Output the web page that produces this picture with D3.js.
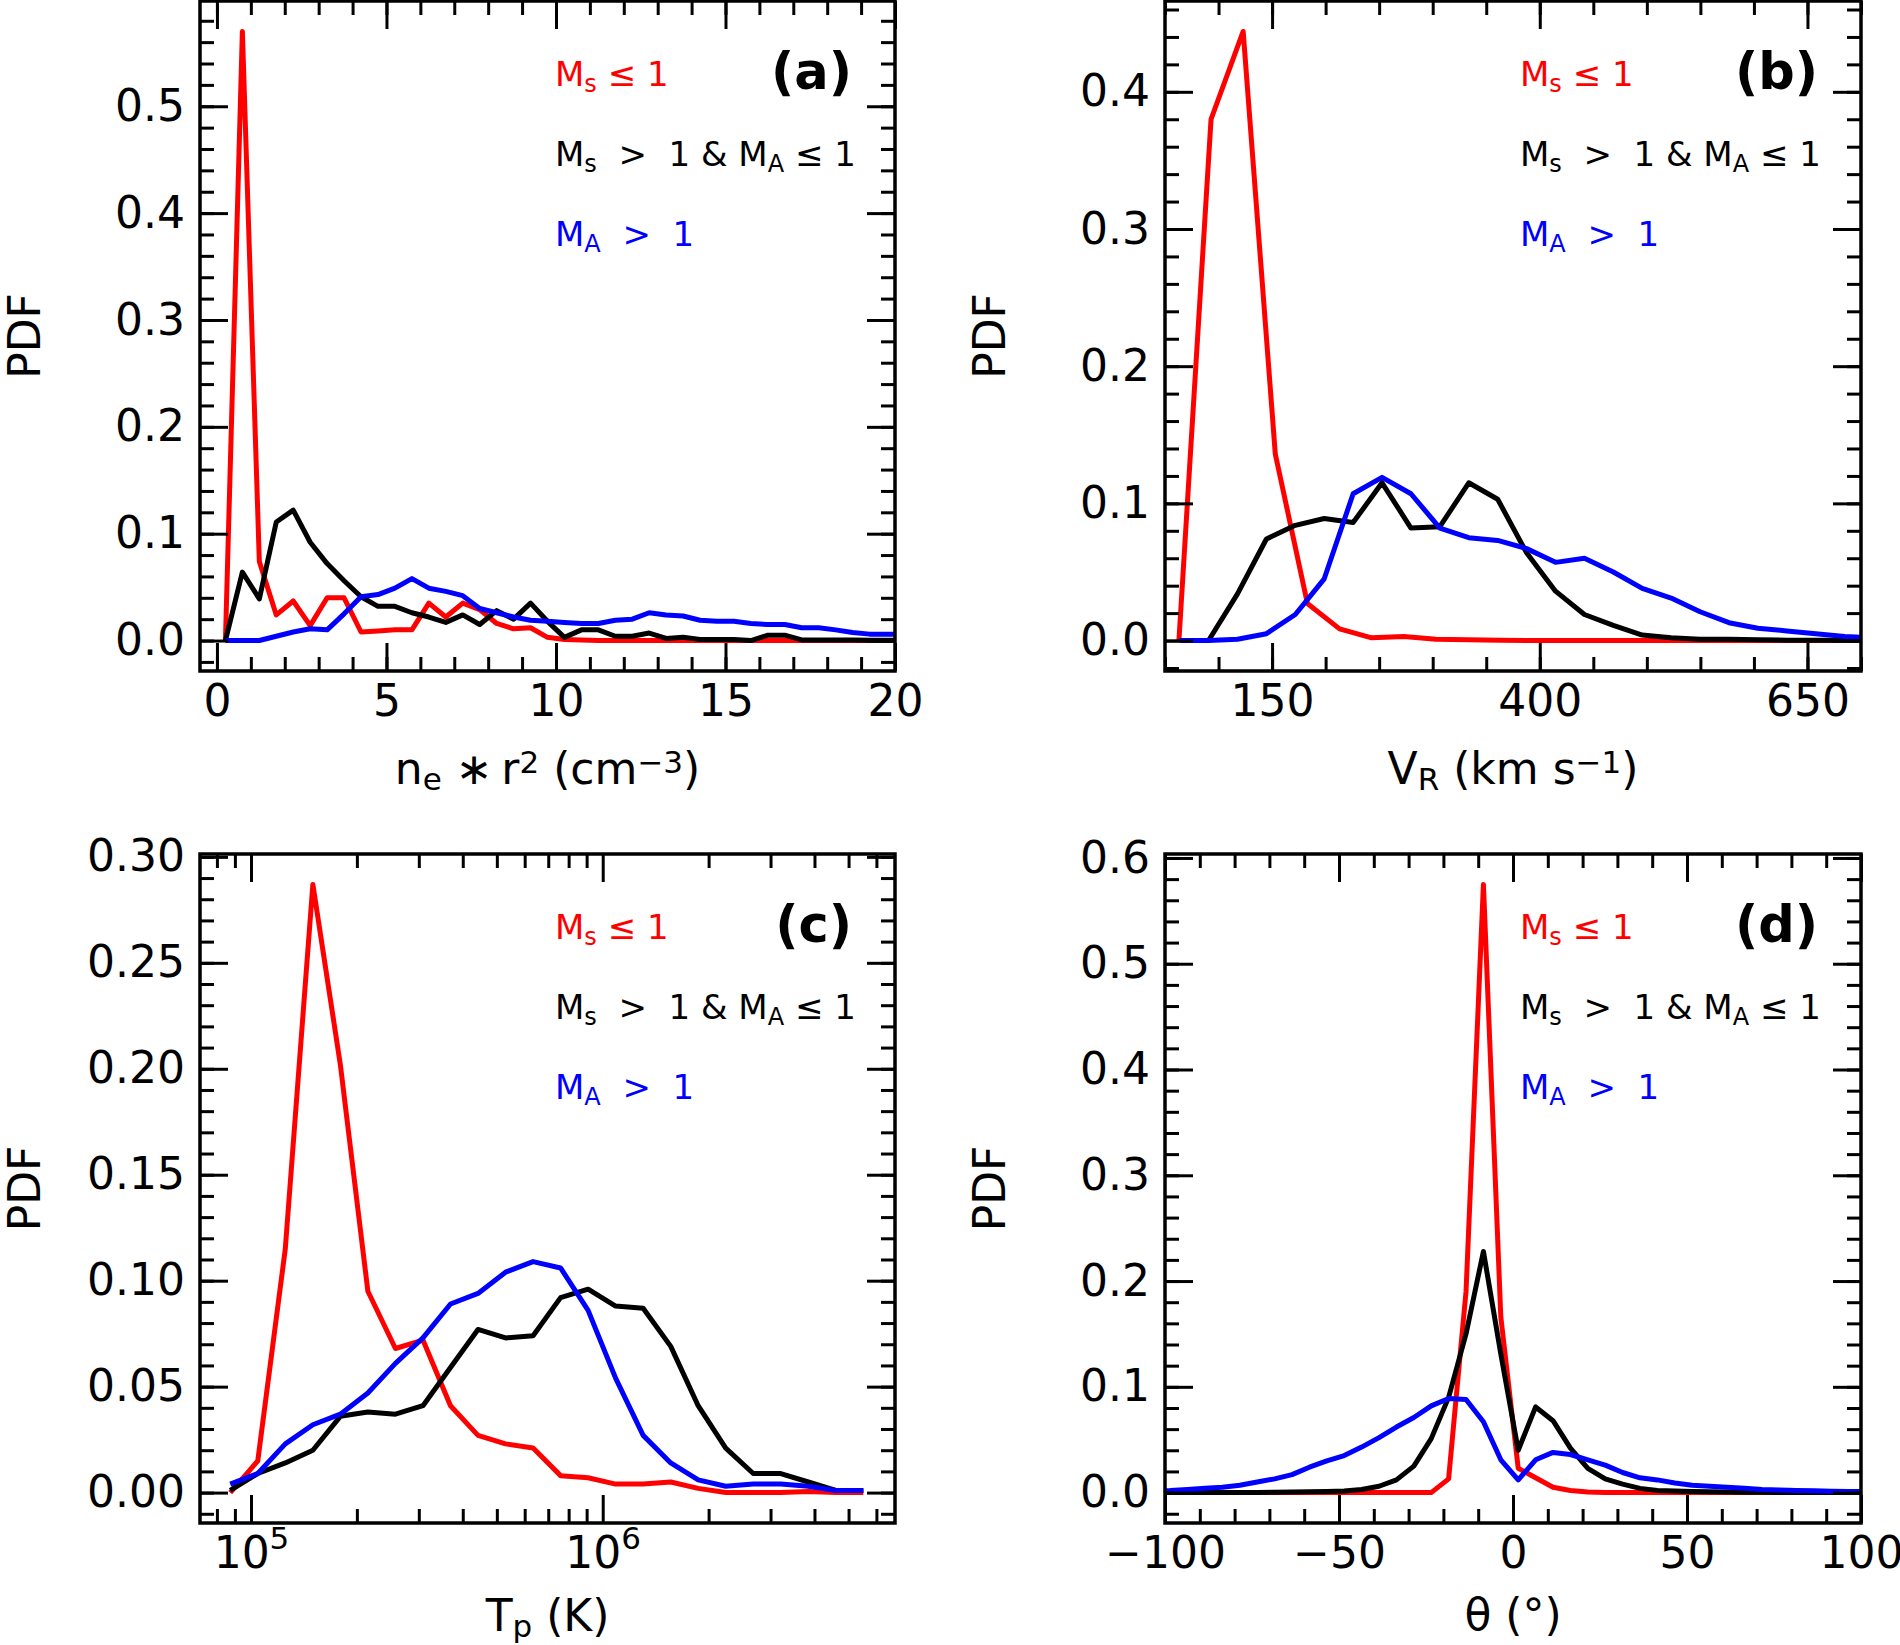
<!DOCTYPE html>
<html>
<head>
<meta charset="utf-8">
<script src="https://cdn.jsdelivr.net/npm/d3@7"></script>
<style>
  body { margin: 0; background: #fff; }
  svg text { font-family: "DejaVu Sans", sans-serif; white-space: pre; }
</style>
</head>
<body>
<svg width="1900" height="1645"></svg>
<script>
// ---- panel (a): n_e * r^2
var aX = [0.25,0.75,1.25,1.75,2.25,2.75,3.25,3.75,4.25,4.75,5.25,5.75,6.25,6.75,7.25,7.75,8.25,8.75,9.25,9.75,
          10.25,10.75,11.25,11.75,12.25,12.75,13.25,13.75,14.25,14.75,15.25,15.75,16.25,16.75,17.25,17.75,18.25,18.75,19.25,19.75,20.25];
var aRed = [0,0.570,0.074,0.024,0.037,0.014,0.040,0.040,0.008,0.009,0.010,0.010,0.035,0.022,0.035,0.029,0.016,0.011,0.012,0.003,
            0.001,0.0005,0,0,0,0,0,0,0,0,0,0,0,0,0,0,0,0,0,0,0];
var aBlack = [0,0.064,0.039,0.111,0.122,0.092,0.072,0.056,0.041,0.032,0.032,0.026,0.022,0.017,0.024,0.015,0.028,0.020,0.035,0.018,
              0.003,0.010,0.010,0.004,0.004,0.007,0.002,0.003,0.001,0.001,0.001,0,0.005,0.005,0.0006,0.0005,0.0005,0.0004,0.0003,0.0003,0.0003];
var aBlue = [0,0,0,0.004,0.008,0.011,0.010,0.025,0.041,0.043,0.049,0.058,0.049,0.046,0.042,0.030,0.026,0.022,0.019,0.018,
             0.017,0.016,0.016,0.019,0.020,0.026,0.024,0.023,0.019,0.018,0.018,0.016,0.015,0.015,0.012,0.012,0.010,0.0075,0.006,0.006,0.006];

// ---- panel (b): V_R
var bRedX = [63,93,123,153,183,213,243,273,303,333,363,393,423,453,483,513,543,573,603,633,663,693,723];
var bRed = [0,0.380,0.444,0.136,0.027,0.0085,0.002,0.003,0.001,0.0005,0.0003,0,0,0,0,0,0,0,0,0,0,0,0];
var bX = [63.7,90.7,117.7,144.7,171.7,198.7,225.7,252.7,279.7,306.7,333.7,360.7,387.7,414.7,441.7,468.7,495.7,522.7,549.7,576.7,
          603.7,630.7,657.7,684.7,711.7];
var bBlack = [0,0,0.034,0.074,0.084,0.089,0.086,0.115,0.082,0.083,0.115,0.103,0.064,0.036,0.019,0.011,0.004,0.002,0.001,0.001,
              0.0006,0.0003,0.0003,0.0002,0.0001];
var bBlue = [0,0,0.001,0.005,0.019,0.045,0.107,0.119,0.107,0.082,0.075,0.073,0.067,0.057,0.060,0.050,0.038,0.031,0.021,0.013,
             0.009,0.007,0.005,0.003,0.002];

// ---- panel (c): T_p (log x)
var cX = [87297,104540,125170,149920,179470,214940,257400,308240,369150,441960,529250,633850,758880,908800,
          1088000,1303000,1561000,1868000,2237000,2679000,3208000,3842000,4600000,5508000];
var cRed = [0,0.015,0.115,0.287,0.202,0.095,0.068,0.072,0.041,0.027,0.023,0.021,0.008,0.007,0.004,0.004,0.005,0.002,0,0,
            0,0.0005,0,0];
var cBlack = [0.001,0.009,0.014,0.020,0.036,0.038,0.037,0.041,0.059,0.077,0.073,0.074,0.092,0.096,0.088,0.087,0.069,0.041,0.021,0.009,
              0.009,0.005,0.001,0.001];
var cBlue = [0.004,0.009,0.023,0.032,0.037,0.047,0.061,0.073,0.089,0.094,0.104,0.109,0.106,0.086,0.054,0.027,0.014,0.006,0.003,0.004,
             0.004,0.003,0.001,0.001];

// ---- panel (d): theta
var dX = [-103.5,-98.5,-93.5,-88.5,-83.5,-78.5,-73.5,-68.5,-63.5,-58.5,-53.5,-48.5,-43.5,-38.5,-33.5,-28.5,-23.5,-18.5,-13.5,-8.5,
          -3.5,1.5,6.5,11.5,16.5,21.5,26.5,31.5,36.5,41.5,46.5,51.5,56.5,61.5,66.5,71.5,76.5,81.5,86.5,91.5,96.5,101.5];
var dRed = [0,0,0,0,0,0,0,0,0,0,0,0,0,0,0,0,0,0.013,0.19,0.575,
            0.166,0.023,0.014,0.005,0.002,0.0005,0,0,0,0,0,0,0,0,0,0,0,0,0,0,0,0];
var dBlack = [0,0,0,0,0,0,0.0002,0.0003,0.0005,0.0007,0.001,0.0015,0.003,0.006,0.012,0.025,0.051,0.09,0.15,0.228,
              0.131,0.040,0.081,0.068,0.042,0.023,0.013,0.008,0.004,0.002,0.0015,0.001,0.0007,0.0005,0.0004,0.0003,0.0002,0.0002,0.0001,0.0001,0.0001,0.0001];
var dBlue = [0.0015,0.002,0.003,0.004,0.005,0.007,0.010,0.013,0.017,0.024,0.030,0.035,0.043,0.052,0.062,0.071,0.082,0.089,0.088,0.067,
             0.031,0.012,0.031,0.038,0.036,0.031,0.026,0.019,0.014,0.012,0.009,0.007,0.006,0.005,0.004,0.003,0.0025,0.002,0.0017,0.0013,0.001,0.001];

// ---- ticks
var aXMajor = [0,5,10,15,20];
var aXMinor = d3.range(0, 21, 1);
var bXMajor = [150,400,650];
var bXMinor = d3.range(50, 701, 50);
var cXMajor = [1e5,1e6];
var cXMinor = [8e4,9e4,2e5,3e5,4e5,5e5,6e5,7e5,8e5,9e5,2e6,3e6,4e6,5e6,6e6];
var dXMajor = [-100,-50,0,50,100];
var dXMinor = d3.range(-100, 101, 10);
var yMajor01 = [0,0.1,0.2,0.3,0.4,0.5,0.6];
var yMajor005 = [0,0.05,0.1,0.15,0.2,0.25,0.3];

var svg = d3.select('svg');
var FS = 44;

// text with sub / superscripts; parts = [[string, ''|'sub'|'sup'], ...]
function rich(t, parts, size, subDy, supDy) {
  var cur = 0;
  parts.forEach(function(p) {
    var s = t.append('tspan').text(p[0]);
    var target = p[1] === 'sub' ? subDy : (p[1] === 'sup' ? -supDy : 0);
    if (target !== cur) s.attr('dy', target - cur);
    cur = target;
    if (p[1]) s.attr('font-size', Math.round(size * 0.7));
  });
}

function axis(g, fn, scale, ticks, len, fmt, pad, tr) {
  var ax = fn(scale).tickValues(ticks).tickSize(-len).tickPadding(pad).tickFormat(fmt || '');
  var a = g.append('g').attr('transform', tr).call(ax)
    .attr('font-size', FS).attr('font-family', '"DejaVu Sans", sans-serif');
  a.select('.domain').remove();
  a.selectAll('line').attr('stroke', '#000').attr('stroke-width', 3);
  a.selectAll('text').attr('fill', '#000');
  return a;
}

function drawPanel(p) {
  var L = p.box[0], T = p.box[1], R = p.box[2], B = p.box[3];
  var x = p.x.range([L, R]);
  var y = p.y.range([B, T]);
  var g = svg.append('g');

  g.append('clipPath').attr('id', 'clip' + p.id)
    .append('rect').attr('x', L).attr('y', T).attr('width', R - L).attr('height', B - T);

  var line = d3.line().x(function(d) { return x(d[0]); }).y(function(d) { return y(d[1]); });
  p.series.forEach(function(s) {
    g.append('path')
      .datum(s.x.map(function(v, i) { return [v, s.y[i]]; }))
      .attr('clip-path', 'url(#clip' + p.id + ')')
      .attr('d', line)
      .attr('fill', 'none')
      .attr('stroke', s.color)
      .attr('stroke-width', 5)
      .attr('stroke-linejoin', 'round');
  });

  var xMin = p.xMinor.filter(function(v) { return v >= x.domain()[0] && v <= x.domain()[1]; });
  var yMin = p.yMinor.filter(function(v) { return v >= y.domain()[0] && v <= y.domain()[1]; });

  // bottom / top
  var bx = axis(g, d3.axisBottom, x, p.xMajor, 28, p.xFmt, 14, 'translate(0,' + B + ')');
  axis(g, d3.axisBottom, x, xMin, 14, null, 0, 'translate(0,' + B + ')');
  axis(g, d3.axisTop, x, p.xMajor, 28, null, 0, 'translate(0,' + T + ')');
  axis(g, d3.axisTop, x, xMin, 14, null, 0, 'translate(0,' + T + ')');
  // left / right
  axis(g, d3.axisLeft, y, p.yMajor, 28, p.yFmt, 15, 'translate(' + L + ',0)');
  axis(g, d3.axisLeft, y, yMin, 14, null, 0, 'translate(' + L + ',0)');
  axis(g, d3.axisRight, y, p.yMajor, 28, null, 0, 'translate(' + R + ',0)');
  axis(g, d3.axisRight, y, yMin, 14, null, 0, 'translate(' + R + ',0)');

  if (p.logLabels) {
    bx.selectAll('.tick text').each(function(d) {
      var t = d3.select(this).text(null);
      rich(t, [['10', ''], [String(Math.round(Math.log10(d))), 'sup']], FS, 0, 19);
    });
  }

  g.append('rect').attr('x', L).attr('y', T).attr('width', R - L).attr('height', B - T)
    .attr('fill', 'none').attr('stroke', '#000').attr('stroke-width', 3.5);

  // y label
  svg.append('text')
    .attr('transform', 'translate(' + (L - 160) + ',' + ((T + B) / 2) + ') rotate(-90)')
    .attr('text-anchor', 'middle').attr('font-size', FS).text('PDF');

  // x label
  var xl = svg.append('text').attr('x', (L + R) / 2).attr('y', B + p.xlabDy)
    .attr('text-anchor', 'middle').attr('font-size', FS);
  rich(xl, p.xlabel, FS, 6, 11);

  // panel letter
  svg.append('text').attr('x', R - 43).attr('y', T + 88).attr('text-anchor', 'end')
    .attr('font-size', 51).attr('font-weight', 'bold').text(p.letter);

  // legend texts
  var lx = L + 355, LF = 34;
  var l1 = svg.append('text').attr('x', lx).attr('y', T + 85).attr('font-size', LF).attr('fill', '#ff0000');
  rich(l1, [['M', ''], ['s', 'sub'], [' \u2264 1', '']], LF, 6, 0);
  var l2 = svg.append('text').attr('x', lx).attr('y', T + 165).attr('font-size', LF).attr('fill', '#000');
  rich(l2, [['M', ''], ['s', 'sub'], ['  >  1 & M', ''], ['A', 'sub'], [' \u2264 1', '']], LF, 6, 0);
  var l3 = svg.append('text').attr('x', lx).attr('y', T + 245).attr('font-size', LF).attr('fill', '#0000ff');
  rich(l3, [['M', ''], ['A', 'sub'], ['  >  1', '']], LF, 6, 0);
}

var fmt1 = d3.format('.1f'), fmt2 = d3.format('.2f');

drawPanel({
  id: 'a', box: [200, 1, 895, 671], letter: '(a)',
  x: d3.scaleLinear().domain([-0.5, 20]), y: d3.scaleLinear().domain([-0.0285, 0.5985]),
  xMajor: aXMajor, xMinor: aXMinor, xFmt: d3.format('d'),
  yMajor: yMajor01.slice(0, 6), yMinor: d3.range(-0.02, 0.6, 0.02), yFmt: fmt1,
  series: [{x: aX, y: aRed, color: '#ff0000'}, {x: aX, y: aBlack, color: '#000'}, {x: aX, y: aBlue, color: '#0000ff'}],
  xlabel: [['n', ''], ['e', 'sub'], [' \u2217\u2009r', ''], ['2', 'sup'], [' (cm', ''], ['\u22123', 'sup'], [')', '']], xlabDy: 113
});

drawPanel({
  id: 'b', box: [1165, 1, 1861, 671], letter: '(b)',
  x: d3.scaleLinear().domain([50, 700]), y: d3.scaleLinear().domain([-0.0222, 0.4662]),
  xMajor: bXMajor, xMinor: bXMinor, xFmt: d3.format('d'),
  yMajor: yMajor01.slice(0, 5), yMinor: d3.range(-0.02, 0.47, 0.02), yFmt: fmt1,
  series: [{x: bRedX, y: bRed, color: '#ff0000'}, {x: bX, y: bBlack, color: '#000'}, {x: bX, y: bBlue, color: '#0000ff'}],
  xlabel: [['V', ''], ['R', 'sub'], [' (km s', ''], ['\u22121', 'sup'], [')', '']], xlabDy: 113
});

drawPanel({
  id: 'c', box: [200, 854, 895, 1523], letter: '(c)',
  x: d3.scaleLog().domain([Math.pow(10, 4.855), Math.pow(10, 6.831)]), y: d3.scaleLinear().domain([-0.01435, 0.30135]),
  xMajor: cXMajor, xMinor: cXMinor, xFmt: function() { return ''; }, logLabels: true,
  yMajor: yMajor005, yMinor: d3.range(-0.01, 0.305, 0.01), yFmt: fmt2,
  series: [{x: cX, y: cRed, color: '#ff0000'}, {x: cX, y: cBlack, color: '#000'}, {x: cX, y: cBlue, color: '#0000ff'}],
  xlabel: [['T', ''], ['p', 'sub'], [' (K)', '']], xlabDy: 108
});

drawPanel({
  id: 'd', box: [1165, 854, 1861, 1523], letter: '(d)',
  x: d3.scaleLinear().domain([-100, 100]), y: d3.scaleLinear().domain([-0.02875, 0.60375]),
  xMajor: dXMajor, xMinor: dXMinor, xFmt: d3.format('d'),
  yMajor: yMajor01, yMinor: d3.range(-0.02, 0.61, 0.02), yFmt: fmt1,
  series: [{x: dX, y: dRed, color: '#ff0000'}, {x: dX, y: dBlack, color: '#000'}, {x: dX, y: dBlue, color: '#0000ff'}],
  xlabel: [['\u03b8 (\u00b0)', '']], xlabDy: 107
});
</script>
</body>
</html>
